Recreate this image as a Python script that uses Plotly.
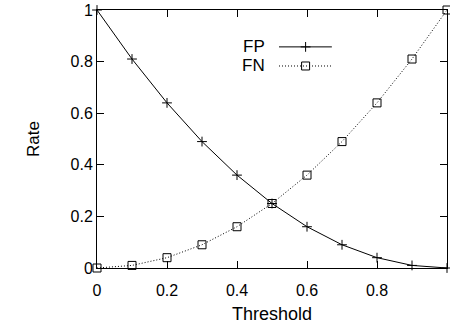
import plotly.graph_objects as go

threshold = [0.0, 0.1, 0.2, 0.3, 0.4, 0.5, 0.6, 0.7, 0.8, 0.9, 1.0]
fp_rate = [1.0, 0.81, 0.64, 0.49, 0.36, 0.25, 0.16, 0.09, 0.04, 0.01, 0.0]
fn_rate = [0.0, 0.01, 0.04, 0.09, 0.16, 0.25, 0.36, 0.49, 0.64, 0.81, 1.0]
tick_vals = [0, 0.2, 0.4, 0.6, 0.8, 1]
tick_text = ["0", "0.2", "0.4", "0.6", "0.8", "1"]

FONT = "Liberation Sans, Arial, Helvetica, sans-serif"
DOT = "1px,2px"

fig = go.Figure()
fig.add_trace(go.Scatter(
    x=threshold, y=fp_rate, mode="lines+markers", name="FP",
    line=dict(color="black", width=1),
    marker=dict(symbol="cross-thin", size=7, line=dict(color="black", width=1)),
    cliponaxis=False, showlegend=False))
fig.add_trace(go.Scatter(
    x=threshold, y=fn_rate, mode="lines+markers", name="FN",
    line=dict(color="black", width=1, dash=DOT),
    marker=dict(symbol="square-open", size=8, color="black", line=dict(width=1)),
    cliponaxis=False, showlegend=False))

# gnuplot-style key (text left of sample), drawn on an overlay axis in [0,1]
key_y = [0.857, 0.783]
key_line_x = [0.52, 0.671]
key_mark_x = 0.596
fig.add_trace(go.Scatter(x=key_line_x, y=[key_y[0]] * 2, mode="lines",
                         line=dict(color="black", width=1), xaxis="x2", yaxis="y2",
                         showlegend=False, hoverinfo="skip"))
fig.add_trace(go.Scatter(x=[key_mark_x], y=[key_y[0]], mode="markers",
                         marker=dict(symbol="cross-thin", size=7, line=dict(color="black", width=1)),
                         xaxis="x2", yaxis="y2", showlegend=False, hoverinfo="skip"))
fig.add_trace(go.Scatter(x=key_line_x, y=[key_y[1]] * 2, mode="lines",
                         line=dict(color="black", width=1, dash=DOT), xaxis="x2", yaxis="y2",
                         showlegend=False, hoverinfo="skip"))
fig.add_trace(go.Scatter(x=[key_mark_x], y=[key_y[1]], mode="markers",
                         marker=dict(symbol="square-open", size=8, color="black", line=dict(width=1)),
                         xaxis="x2", yaxis="y2", showlegend=False, hoverinfo="skip"))
for label, yy in zip(["FP", "FN"], key_y):
    fig.add_annotation(x=0.486, y=yy, xref="x2", yref="y2", text=label, showarrow=False,
                       xanchor="right", yanchor="middle",
                       font=dict(family=FONT, size=17, color="black"))

axis_common = dict(
    showline=True, linecolor="black", linewidth=1, mirror="ticks",
    ticks="inside", ticklen=7, tickcolor="black", tickwidth=1,
    showgrid=False, zeroline=False, range=[0, 1], automargin=False,
    tickvals=tick_vals, ticktext=tick_text,
    tickfont=dict(family=FONT, size=16, color="black"),
)

fig.update_layout(
    width=450, height=333,
    margin=dict(l=97, r=3, t=10, b=65, autoexpand=False),
    paper_bgcolor="white", plot_bgcolor="white",
    xaxis=dict(**axis_common, ticklabelstandoff=8,
               title=dict(text="Threshold", standoff=9,
                          font=dict(family=FONT, size=18, color="black"))),
    yaxis=dict(**axis_common, title=dict(text="Rate", standoff=26,
               font=dict(family=FONT, size=17, color="black"))),
    xaxis2=dict(overlaying="x", range=[0, 1], visible=False),
    yaxis2=dict(overlaying="y", range=[0, 1], visible=False),
    font=dict(family=FONT, color="black"),
)

fig.write_html("out.html", config={"displayModeBar": False},
               post_script="document.body.style.margin='0';")
